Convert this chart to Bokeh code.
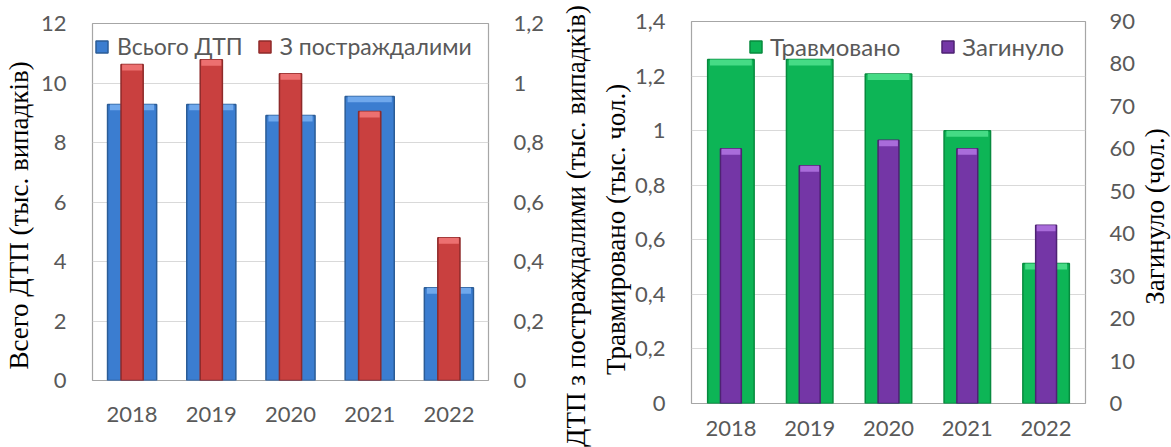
from bokeh.plotting import figure
from bokeh.models import (FactorRange, Range1d, LinearAxis, FixedTicker, CustomJSTickFormatter,
                          Legend, LegendItem)
from bokeh.layouts import row, column
from bokeh.embed import file_html
from bokeh.resources import INLINE

# ---------------- data ----------------
years = ["2018", "2019", "2020", "2021", "2022"]
dtp_total = [9.28, 9.28, 8.91, 9.55, 3.12]          # thousand cases (left axis)
dtp_victims = [1.062, 1.078, 1.031, 0.904, 0.480]   # thousand cases (right axis)
injured = [1.261, 1.261, 1.208, 1.000, 0.513]       # thousand persons (left axis)
killed = [60, 56, 62, 60, 42]                       # persons (right axis)

ticks_total = [0, 2, 4, 6, 8, 10, 12]
ticks_victims = [0, 0.2, 0.4, 0.6, 0.8, 1.0, 1.2]
ticks_injured = [0, 0.2, 0.4, 0.6, 0.8, 1.0, 1.2, 1.4]
ticks_killed = [0, 10, 20, 30, 40, 50, 60, 70, 80, 90]

# ---------------- style ----------------
TICK_FONT = "Lato"
TITLE_FONT = "Liberation Serif"
GREY = "#595959"
NB = "\u00a0"
comma_fmt = CustomJSTickFormatter(code="var v = Math.round(tick*10)/10; return v.toString().replace('.', ',');")


def style_axis(ax, standoff):
    ax.axis_line_color = None
    ax.major_tick_line_color = None
    ax.minor_tick_line_color = None
    ax.major_tick_out = 0
    ax.major_tick_in = 0
    ax.minor_tick_out = 0
    ax.minor_tick_in = 0
    ax.major_label_text_font = TICK_FONT
    ax.major_label_text_font_size = "22px"
    ax.major_label_text_color = GREY
    ax.major_label_standoff = standoff


def style_title(ax, text, standoff):
    ax.axis_label = text
    ax.axis_label_text_font = TITLE_FONT
    ax.axis_label_text_font_size = "27px"
    ax.axis_label_text_font_style = "normal"
    ax.axis_label_text_color = "black"
    ax.axis_label_standoff = standoff


def title_axis(p, text, standoff):
    ax = LinearAxis(ticker=FixedTicker(ticks=[]))
    style_axis(ax, 0)
    style_title(ax, text, standoff)
    p.add_layout(ax, "left")
    return ax


def bars(p, top, width, fill, line, cap, cap_h, range_name="default"):
    r = p.vbar(x=years, top=top, bottom=0, width=width, fill_color=fill,
               line_color=line, line_width=1.5, y_range_name=range_name)
    p.vbar(x=years, top=top, bottom=[t - cap_h for t in top], width=width * 0.9,
           fill_color=cap, line_color=None, y_range_name=range_name)
    return r


def make_fig(width, ymax, ticks, rmax, rticks, mbl, mbr, mbt, mbb, xstand, lstand, rstand):
    p = figure(width=width, height=447, x_range=FactorRange(*years), y_range=Range1d(0, ymax),
               output_backend="svg", toolbar_location=None,
               min_border_left=mbl, min_border_right=mbr, min_border_top=mbt, min_border_bottom=mbb)
    p.extra_y_ranges = {"r": Range1d(0, rmax)}
    p.outline_line_color = "#A6A6A6"
    p.outline_line_width = 1.2
    p.xgrid.grid_line_color = None
    p.ygrid.grid_line_color = "#D9D9D9"
    p.ygrid.grid_line_width = 1.2
    p.yaxis.ticker = FixedTicker(ticks=ticks)
    p.yaxis.formatter = comma_fmt
    style_axis(p.yaxis[0], lstand)
    style_axis(p.xaxis[0], xstand)
    ra = LinearAxis(y_range_name="r", ticker=FixedTicker(ticks=rticks), formatter=comma_fmt)
    style_axis(ra, rstand)
    p.add_layout(ra, "right")
    return p, ra


def legend(p, items, vx, vy, spacing, standoff, size):
    lg = Legend(items=items, orientation="horizontal", location=(vx, vy), padding=0, margin=0,
                spacing=spacing, label_standoff=standoff, glyph_width=15, glyph_height=15,
                border_line_color=None, background_fill_alpha=0,
                label_text_font=TICK_FONT, label_text_font_size=size, label_text_color=GREY)
    p.add_layout(lg)


# ---------------- left chart ----------------
p1, ra1 = make_fig(548, 12, ticks_total, 1.2, ticks_victims, 92, 60, 23, 67, 26, 26, 25)
rb = bars(p1, dtp_total, 0.62, "#3B7DD0", "#2B5C96", "#6FA8EC", 0.2)
rr = bars(p1, dtp_victims, 0.28, "#C9403F", "#8E2A2A", "#EC7070", 0.02, "r")
legend(p1, [LegendItem(label="Всього ДТП", renderers=[rb]),
            LegendItem(label="З постраждалими", renderers=[rr])], 2, 320, 14, 8, "23px")
style_title(p1.yaxis[0], "Всего ДТП (тыс. випадків)" + NB * 4, 4)

# ---------------- right chart ----------------
p2, ra2 = make_fig(590, 1.4, ticks_injured, 90, ticks_killed, 143, 50, 21, 44, 17, 26, 24)
rg = bars(p2, injured, 0.59, "#0DB556", "#078A3E", "#45DB85", 0.022)
rp = bars(p2, killed, 0.265, "#7436A6", "#4E2273", "#A96CDA", 1.4, "r")
legend(p2, [LegendItem(label="Травмовано", renderers=[rg]),
            LegendItem(label="Загинуло", renderers=[rp])], 57, 342, 40, 7, "24px")
style_title(p2.yaxis[0], "Травмировано (тыс. чол.)" + NB * 5, 1)
# title of the left chart's secondary axis, drawn just left of the right chart
title_axis(p2, "ДТП з постраждалими (тыс. випадків)" + NB * 4, 7)

# ---------------- title of the right chart's secondary axis ----------------
p3 = figure(width=33, height=447, x_range=Range1d(0, 1), y_range=Range1d(0, 1), x_axis_type=None,
            output_backend="svg", toolbar_location=None,
            min_border_left=32, min_border_right=0, min_border_top=100, min_border_bottom=115)
p3.outline_line_color = None
p3.grid.visible = False
p3.yaxis.ticker = FixedTicker(ticks=[])
style_axis(p3.yaxis[0], 0)
style_title(p3.yaxis[0], "Загинуло (чол.)", 2)

layout = row(column(p1), column(p2), column(p3))
open("out.html", "w").write(file_html(layout, INLINE))
